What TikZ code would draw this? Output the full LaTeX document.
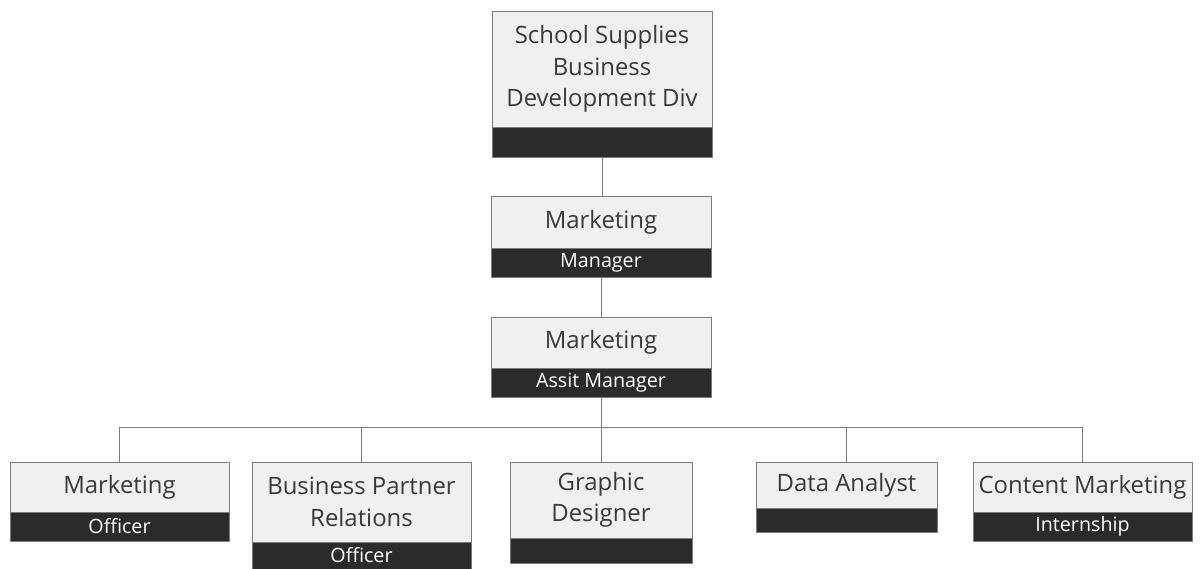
\documentclass[tikz,border=0pt]{standalone}
\usepackage{fontspec}
\setmainfont{Open Sans}
\usetikzlibrary{calc}

\definecolor{boxfill}{HTML}{F0F0F0}
\definecolor{boxline}{HTML}{7C7C7C}
\definecolor{bandfill}{HTML}{2B2B2B}
\definecolor{ink}{HTML}{3A3A3A}

% #1 name, #2 left, #3 right, #4 top, #5 band top, #6 bottom, #7 title, #8 role
\newcommand{\orgbox}[8]{%
    \node[titlebox, minimum width={(#3-#2)*0.025cm}, minimum height={(#5-#4)*0.025cm}]
        (#1) at ({(#2+#3)/2},{(#4+#5)/2}) {#7};
    \node[rolebox, minimum width={(#3-#2)*0.025cm}, minimum height={(#6-#5)*0.025cm}]
        (#1-role) at ({(#2+#3)/2},{(#5+#6)/2}) {#8};
}

\begin{document}
\begin{tikzpicture}[
    x=0.025cm,
    y=-0.025cm,
    line cap=round,
    line join=round,
    titlebox/.style={
        rectangle,
        draw=boxline,
        fill=boxfill,
        line width=0.7pt,
        align=center,
        inner sep=0pt,
        text=ink,
        font=\fontsize{17}{22.4}\selectfont
    },
    rolebox/.style={
        rectangle,
        draw=boxline,
        fill=bandfill,
        line width=0.7pt,
        inner sep=0pt,
        text=white,
        font=\fontsize{14}{16}\selectfont
    },
    link/.style={
        draw=boxline,
        line width=0.7pt
    }
]
    % Page frame
    \useasboundingbox (0,0) rectangle (1200,568);

    % Head of the division and marketing management
    \orgbox{div}{492}{712}{11}{127}{157}{School Supplies\\Business\\Development Div}{}
    \orgbox{mgr}{491}{711}{196}{248}{277}{Marketing}{Manager}
    \orgbox{ast}{491}{711}{317}{368}{397}{Marketing}{Assit Manager}

    % Staff row
    \orgbox{officer}{10}{229}{462}{512}{541}{Marketing}{Officer}
    \orgbox{partner}{252}{471}{462}{542}{569}{Business Partner\\Relations}{Officer}
    \orgbox{design}{510}{692}{462}{538}{563}{Graphic\\Designer}{}
    \orgbox{data}{756}{937}{462}{508}{532}{Data Analyst}{}
    \orgbox{content}{973}{1192}{462}{512}{541}{Content Marketing}{Internship}

    % Reporting lines
    \coordinate (bus) at (600,427);

    \draw[link] (div-role.south) -- (div-role.south |- mgr.north);
    \draw[link] (mgr-role.south) -- (ast.north);
    \draw[link] (ast-role.south) -- (ast-role.south |- bus);
    \draw[link] (officer.north |- bus) -- (content.north |- bus);

    \foreach \n in {officer,partner,design,data,content} {
        \draw[link] (\n.north |- bus) -- (\n.north);
    }
\end{tikzpicture}
\end{document}
